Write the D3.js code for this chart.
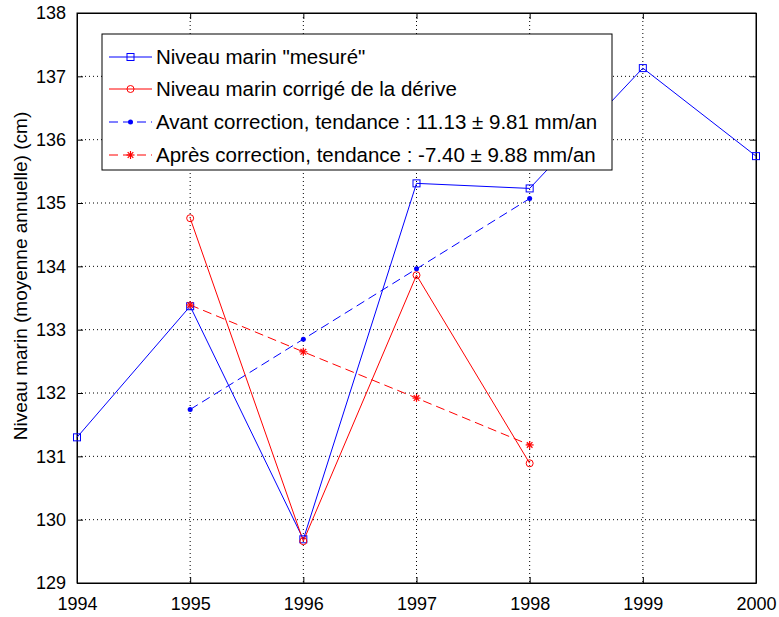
<!DOCTYPE html>
<html><head><meta charset="utf-8">
<script src="https://cdn.jsdelivr.net/npm/d3@7"></script>
<style>body{margin:0;background:#fff;} text{font-family:"Liberation Sans",Arial,sans-serif;}</style>
</head><body><svg id="c" width="779" height="617"></svg>
<script>
const years = [1994,1995,1996,1997,1998,1999,2000];
const mesure = [131.30,133.37,129.69,135.31,135.23,137.13,135.74];
const corrYears = [1995,1996,1997,1998];
const corrige = [134.76,129.66,133.86,130.89];
const avant = [131.74,132.85,133.96,135.07];
const apres = [133.39,132.65,131.92,131.18];
const yTicks = [129,130,131,132,133,134,135,136,137,138];
const legendLabels = ['Niveau marin "mesuré"','Niveau marin corrigé de la dérive','Avant correction, tendance : 11.13 ± 9.81 mm/an','Après correction, tendance : -7.40 ± 9.88 mm/an'];
const yLabel = 'Niveau marin (moyenne annuelle) (cm)';

const svg = d3.select('#c');
const L=77, R=756, T=13, B=583;
const x = d3.scaleLinear().domain([1994,2000]).range([L,R]);
const y = d3.scaleLinear().domain([129,138]).range([B,T]);

// grid
const g = svg.append('g');
g.selectAll('.gx').data(years.slice(1,-1)).enter().append('line')
 .attr('x1',d=>x(d)).attr('x2',d=>x(d)).attr('y1',T).attr('y2',B)
 .attr('stroke','#000').attr('stroke-width',1).attr('stroke-dasharray','1,3');
g.selectAll('.gy').data(yTicks.slice(1,-1)).enter().append('line')
 .attr('y1',d=>y(d)).attr('y2',d=>y(d)).attr('x1',L).attr('x2',R)
 .attr('stroke','#000').attr('stroke-width',1).attr('stroke-dasharray','1,3');

// axes
const fmt = d3.format('d');
const ax = svg.append('g').attr('transform',`translate(0,${B})`).call(d3.axisBottom(x).tickValues(years).tickFormat(fmt).tickSizeInner(-6).tickSizeOuter(0).tickPadding(14));
const axT = svg.append('g').attr('transform',`translate(0,${T})`).call(d3.axisTop(x).tickValues(years).tickFormat('').tickSizeInner(-6).tickSizeOuter(0));
const ay = svg.append('g').attr('transform',`translate(${L},0)`).call(d3.axisLeft(y).tickValues(yTicks).tickFormat(fmt).tickSizeInner(-6).tickSizeOuter(0).tickPadding(11));
const ayR = svg.append('g').attr('transform',`translate(${R},0)`).call(d3.axisRight(y).tickValues(yTicks).tickFormat('').tickSizeInner(-6).tickSizeOuter(0));
[ax,axT,ay,ayR].forEach(a=>{a.select('.domain').attr('stroke','#000');a.selectAll('line').attr('stroke','#000');a.selectAll('text').attr('fill','#000').style('font-size','18px');});
svg.append('rect').attr('x',L).attr('y',T).attr('width',R-L).attr('height',B-T).attr('fill','none').attr('stroke','#000');

svg.append('text').attr('transform',`translate(27,${276}) rotate(-90)`).attr('text-anchor','middle')
 .style('font-size','19px').text(yLabel);

// series
const line = d3.line();
function drawLine(xs,vals,color,dash){
  svg.append('path').attr('d',line(xs.map((d,i)=>[x(d),y(vals[i])])))
   .attr('fill','none').attr('stroke',color).attr('stroke-width',1).attr('stroke-dasharray',dash||null);
}
function square(sel,cx,cy,color){sel.append('rect').attr('x',cx-3.5).attr('y',cy-3.5).attr('width',7).attr('height',7).attr('fill','none').attr('stroke',color);}
function circle(sel,cx,cy,color){sel.append('circle').attr('cx',cx).attr('cy',cy).attr('r',3.5).attr('fill','none').attr('stroke',color);}
function dot(sel,cx,cy,color){sel.append('circle').attr('cx',cx).attr('cy',cy).attr('r',2.5).attr('fill',color);}
function star(sel,cx,cy,color){
  const s=4, p=sel.append('g').attr('stroke',color).attr('stroke-width',1.2);
  p.append('line').attr('x1',cx-s).attr('x2',cx+s).attr('y1',cy).attr('y2',cy);
  p.append('line').attr('x1',cx).attr('x2',cx).attr('y1',cy-s).attr('y2',cy+s);
  p.append('line').attr('x1',cx-s*0.7).attr('x2',cx+s*0.7).attr('y1',cy-s*0.7).attr('y2',cy+s*0.7);
  p.append('line').attr('x1',cx-s*0.7).attr('x2',cx+s*0.7).attr('y1',cy+s*0.7).attr('y2',cy-s*0.7);
}
drawLine(years,mesure,'#0000ff');
drawLine(corrYears,corrige,'#ff0000');
drawLine(corrYears,avant,'#0000ff','9,5');
drawLine(corrYears,apres,'#ff0000','9,5');
years.forEach((d,i)=>square(svg,x(d),y(mesure[i]),'#0000ff'));
corrYears.forEach((d,i)=>circle(svg,x(d),y(corrige[i]),'#ff0000'));
corrYears.forEach((d,i)=>dot(svg,x(d),y(avant[i]),'#0000ff'));
corrYears.forEach((d,i)=>star(svg,x(d),y(apres[i]),'#ff0000'));

// legend
const lg = svg.append('g');
lg.append('rect').attr('x',102).attr('y',34).attr('width',510).attr('height',136).attr('fill','#fff').attr('stroke','#000');
const ly=[57,89,122,155];
const styles=[['#0000ff',null,square],['#ff0000',null,circle],['#0000ff','9,5',dot],['#ff0000','9,5',star]];
legendLabels.forEach((t,i)=>{
  const [c,dash,mk]=styles[i];
  lg.append('line').attr('x1',109).attr('x2',152).attr('y1',ly[i]).attr('y2',ly[i]).attr('stroke',c).attr('stroke-dasharray',dash);
  mk(lg,130.5,ly[i],c);
  lg.append('text').attr('x',156).attr('y',ly[i]).attr('dy','0.36em').style('font-size','20.5px').attr('fill','#000').text(t);
});
</script></body></html>
